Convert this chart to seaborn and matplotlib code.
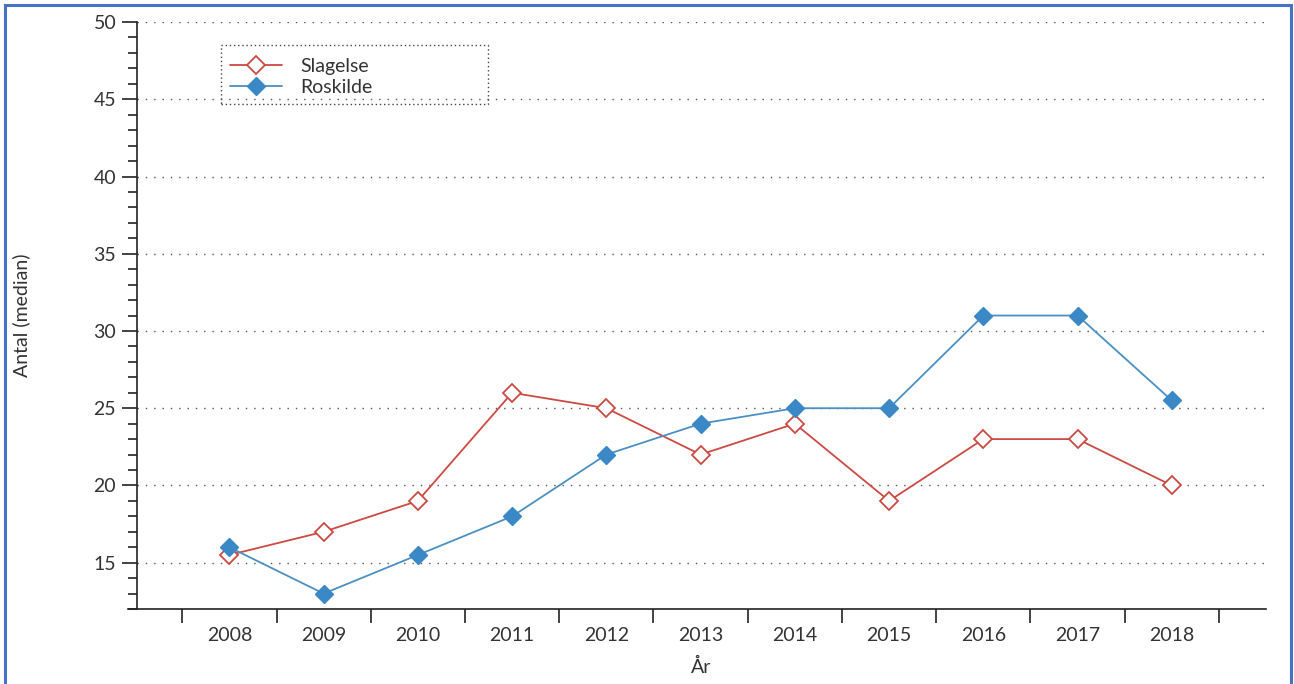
import numpy as np
import pandas as pd
import matplotlib
matplotlib.use("Agg")
import matplotlib.pyplot as plt
from matplotlib.patches import Rectangle
from matplotlib.lines import Line2D
import seaborn as sns

years = ["2008", "2009", "2010", "2011", "2012", "2013", "2014", "2015", "2016", "2017", "2018"]
slagelse = [15.5, 17, 19, 26, 25, 22, 24, 19, 23, 23, 20]
roskilde = [16, 13, 15.5, 18, 22, 24, 25, 25, 31, 31, 25.5]

RED = "#CC4A42"
BLUE = "#3A88C5"
BLUE_LINE = "#4A90C2"
TEXT = "#333333"
FS = 14

sns.set_theme(style="white")
plt.rcParams["font.family"] = ["Lato", "DejaVu Sans"]

pos = np.arange(len(years))
df = pd.DataFrame({"pos": np.concatenate([pos, pos]),
                   "value": slagelse + roskilde,
                   "series": ["Slagelse"] * len(years) + ["Roskilde"] * len(years)})

fig = plt.figure(figsize=(12.94, 6.84), dpi=100)
ax = fig.add_axes([0.1059, 0.1096, 0.8725, 0.8582])

sns.lineplot(data=df[df.series == "Slagelse"], x="pos", y="value", ax=ax,
             color=RED, lw=1.3, marker="D", markersize=9,
             markerfacecolor="white", markeredgecolor=RED, markeredgewidth=1.3,
             zorder=3, legend=False)
sns.lineplot(data=df[df.series == "Roskilde"], x="pos", y="value", ax=ax,
             color=BLUE_LINE, lw=1.3, marker="D", markersize=9,
             markerfacecolor=BLUE, markeredgecolor=BLUE, markeredgewidth=1,
             zorder=4, legend=False)

ax.set_ylim(12, 50)
ax.set_xlim(-0.98, 11.0)

# y axis: major every 5, minor every 1
ax.set_yticks(np.arange(15, 51, 5))
ax.set_yticks(np.arange(12, 51, 1), minor=True)
ax.tick_params(axis="y", which="major", direction="out", length=11, width=1.2,
               color="#222222", labelsize=FS, labelcolor=TEXT, pad=4, left=True)
ax.tick_params(axis="y", which="minor", direction="out", length=6.5, width=1.2,
               color="#222222", left=True)

# x axis: ticks at category boundaries, labels at centers
ax.set_xticks(np.arange(-0.5, len(years), 1.0))
ax.set_xticklabels([])
ax.set_xticks(pos, minor=True)
ax.set_xticklabels(years, minor=True)
ax.tick_params(axis="x", which="major", direction="out", length=10, width=1.2,
               color="#222222", bottom=True)
ax.tick_params(axis="x", which="minor", length=0, labelsize=FS,
               labelcolor=TEXT, pad=13)

ax.grid(False)
for v in np.arange(15, 51, 5):
    ax.axhline(v, color="#555555", lw=1.0, ls=(0, (1, 5)), zorder=1)

for s in ["top", "right"]:
    ax.spines[s].set_visible(False)
for s in ["left", "bottom"]:
    ax.spines[s].set_color("#222222")
    ax.spines[s].set_linewidth(1.2)
ax.spines["bottom"].set_bounds(-1.08, 11.0)

ax.set_xlabel("År", fontsize=FS, color=TEXT)
ax.xaxis.set_label_coords(0.5, -0.083)
ax.set_ylabel("Antal (median)", fontsize=FS, color=TEXT)
ax.yaxis.set_label_coords(-0.0947, 0.5)

handles = [
    Line2D([], [], color=RED, lw=1.3, marker="D", markersize=9,
           markerfacecolor="white", markeredgecolor=RED, markeredgewidth=1.3),
    Line2D([], [], color=BLUE_LINE, lw=1.3, marker="D", markersize=9,
           markerfacecolor=BLUE, markeredgecolor=BLUE),
]
leg = ax.legend(handles, ["Slagelse", "Roskilde"], loc="center left",
                bbox_to_anchor=(0.0824, 0.907), fontsize=FS, frameon=False,
                handlelength=2.67, handletextpad=0.95,
                borderpad=0, labelspacing=0.2, borderaxespad=0)
for t in leg.get_texts():
    t.set_color(TEXT)

# dotted legend box
ax.add_patch(Rectangle((0.0744, 0.8603), 0.3109 - 0.0744, 0.9608 - 0.8603,
                       transform=ax.transAxes, fill=False, edgecolor="#444444",
                       lw=1.0, ls=(0, (1, 2)), zorder=5))

# outer border
fig.patches.append(Rectangle((4.5 / 1294, -0.05), (1290.5 - 4.5) / 1294, 1.05 - 4.5 / 684,
                             transform=fig.transFigure, fill=False,
                             edgecolor="#4472C4", lw=2.2))

fig.savefig("out.png", dpi=100)
